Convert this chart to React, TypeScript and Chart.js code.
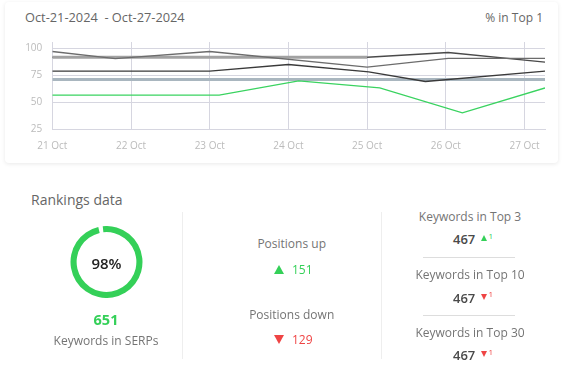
import React, { useEffect, useRef } from "react";
import { Chart, registerables } from "chart.js";

Chart.register(...registerables);

// ---- data ----
const dayLabels = ["21 Oct", "22 Oct", "23 Oct", "24 Oct", "25 Oct", "26 Oct", "27 Oct"];
const xMax = 6.26;
const yMin = 25;
const yMax = 106;

const greenX = [0, 2.12, 3.13, 4.16, 5.21, 6.26];
const greenY = [56.8, 56.8, 70.0, 63.5, 40.4, 63.5];

const darkX = [0, 2.0, 3.0, 4.02, 4.74, 6.26];
const darkY = [79, 79, 85.2, 78.3, 69.5, 79];

const grayX = [0, 0.8, 2.0, 4.0, 5.03, 6.26];
const grayY = [97.2, 90.7, 97.2, 82.7, 90.9, 90.9];

const thickX = [0, 4.0];
const thickY = [91.9, 91.9];

const topX = [0, 4.0, 5.03, 6.26];
const topY = [91.9, 91.9, 96.3, 87.3];

const blueX = [0, 6.26];
const blueY = [71.4, 71.4];

const keywordsPct = 98;
const keywordsInSerps = 651;
const positionsUp = 151;
const positionsDown = 129;
const topRows = [
  { label: "Keywords in Top 3", value: 467, delta: 1, up: true },
  { label: "Keywords in Top 10", value: 467, delta: 1, up: false },
  { label: "Keywords in Top 30", value: 467, delta: 1, up: false },
];

const FONT = "'Open Sans', 'Noto Sans', sans-serif";
const GREEN = "#34d058";
const RED = "#ef4444";
const LABEL = "#747474";

const pts = (xs: number[], ys: number[]) => xs.map((x, i) => ({ x, y: ys[i] }));

function LineChart() {
  const ref = useRef<HTMLCanvasElement>(null);
  useEffect(() => {
    if (!ref.current) return;
    const ds = (xs: number[], ys: number[], color: string, w: number) => ({
      data: pts(xs, ys),
      borderColor: color,
      backgroundColor: color,
      borderWidth: w,
      pointRadius: 0,
      tension: 0,
      fill: false,
    });
    const chart = new Chart(ref.current, {
      type: "line",
      data: {
        datasets: [
          ds(greenX, greenY, "#3ad360", 1.3),
          ds(darkX, darkY, "#3a3a3a", 1.3),
          ds(grayX, grayY, "#6c6c6c", 1.3),
          ds(thickX, thickY, "#a2a2a2", 3),
          ds(topX, topY, "#4a4a4a", 1.3),
          ds(blueX, blueY, "#a9b6bf", 3),
        ] as any,
      },
      options: {
        animation: false,
        responsive: true,
        maintainAspectRatio: false,
        layout: { padding: { top: 0, right: 10, left: 0, bottom: 0 } },
        plugins: { legend: { display: false }, tooltip: { enabled: false } },
        scales: {
          x: {
            type: "linear",
            min: 0,
            max: xMax,
            grid: { color: "#d6d6e0", drawTicks: false, lineWidth: 1 },
            border: { color: "#d6d6e0" },
            ticks: {
              stepSize: 1,
              includeBounds: false,
              padding: 11,
              color: "#bbbbbb",
              font: { family: FONT, size: 10 },
              maxRotation: 0,
              autoSkip: false,
              callback: (v: any) => dayLabels[Math.round(Number(v))] ?? "",
            },
            afterFit: (s: any) => {
              s.height = 30.7;
            },
          },
          y: {
            min: yMin,
            max: yMax,
            grid: { color: "#d6d6e0", drawTicks: false, lineWidth: 1 },
            border: { color: "#d6d6e0" },
            ticks: {
              stepSize: 25,
              includeBounds: false,
              padding: 10,
              color: "#bbbbbb",
              font: { family: FONT, size: 10 },
            },
            afterFit: (s: any) => {
              s.width = 42.3;
            },
          },
        },
      } as any,
    });
    return () => chart.destroy();
  }, []);
  return (
    <div style={{ position: "absolute", left: 10, top: 25.7, width: 545, height: 134.3 }}>
      <canvas ref={ref} />
    </div>
  );
}

function Donut() {
  const ref = useRef<HTMLCanvasElement>(null);
  useEffect(() => {
    if (!ref.current) return;
    const chart = new Chart(ref.current, {
      type: "doughnut",
      data: {
        datasets: [
          {
            data: [keywordsPct, 100 - keywordsPct],
            backgroundColor: [GREEN, "rgba(0,0,0,0)"],
            borderWidth: 0,
          },
        ],
      },
      options: {
        animation: false,
        responsive: true,
        maintainAspectRatio: false,
        rotation: -6,
        cutout: "83%",
        plugins: { legend: { display: false }, tooltip: { enabled: false } },
      } as any,
    });
    return () => chart.destroy();
  }, []);
  return (
    <div style={{ position: "absolute", left: 70, top: 226, width: 73, height: 72 }}>
      <canvas ref={ref} />
    </div>
  );
}

const Tri = ({ up, size, color, style }: { up: boolean; size: number; color: string; style: React.CSSProperties }) => (
  <div
    style={{
      position: "absolute",
      width: 0,
      height: 0,
      borderLeft: `${size / 2}px solid transparent`,
      borderRight: `${size / 2}px solid transparent`,
      ...(up
        ? { borderBottom: `${size * 0.9}px solid ${color}` }
        : { borderTop: `${size * 0.9}px solid ${color}` }),
      ...style,
    }}
  />
);

const centerText = (x: number, y: number, text: any, style: React.CSSProperties) => (
  <div
    style={{
      position: "absolute",
      left: x - 100,
      top: y,
      width: 200,
      textAlign: "center",
      transform: "translateY(-50%)",
      whiteSpace: "nowrap",
      lineHeight: 1,
      ...style,
    }}
  >
    {text}
  </div>
);

export default function App() {
  const rowYs = [216.7, 275, 332.7];
  return (
    <div
      style={{
        position: "absolute",
        left: 0,
        top: 0,
        width: 564,
        height: 378,
        background: "#fff",
        fontFamily: FONT,
        overflow: "hidden",
      }}
    >
      <div
        style={{
          position: "absolute",
          left: 5,
          top: 2,
          width: 553,
          height: 161,
          background: "#fff",
          borderRadius: 4,
          boxShadow: "0 1px 4px rgba(0,0,0,0.09)",
        }}
      />
      <div style={{ position: "absolute", left: 25, top: 10, fontSize: 12.8, color: "#666", whiteSpace: "pre", lineHeight: "15px" }}>
        {"Oct-21-2024  - Oct-27-2024"}
      </div>
      <div style={{ position: "absolute", right: 21, top: 10, fontSize: 12, color: "#666", lineHeight: "15px" }}>
        % in Top 1
      </div>
      <LineChart />

      <div style={{ position: "absolute", left: 31, top: 191, fontSize: 14, color: "#666", lineHeight: "18px" }}>
        Rankings data
      </div>
      <Donut />
      {centerText(106.5, 263, "98%", { fontSize: 15, fontWeight: 600, color: "#222" })}
      {centerText(106, 320, String(keywordsInSerps), { fontSize: 14.5, fontWeight: 700, color: GREEN })}
      {centerText(106, 341, "Keywords in SERPs", { fontSize: 12, color: LABEL })}

      <div style={{ position: "absolute", left: 182, top: 212, width: 1, height: 147, background: "#eee" }} />
      <div style={{ position: "absolute", left: 381, top: 212, width: 1, height: 147, background: "#eee" }} />

      {centerText(291.7, 244.3, "Positions up", { fontSize: 12, color: LABEL })}
      <Tri up={true} size={11} color={GREEN} style={{ left: 273.5, top: 265 }} />
      <div style={{ position: "absolute", left: 292, top: 263, fontSize: 12, color: GREEN, lineHeight: "14px" }}>
        {positionsUp}
      </div>
      {centerText(291.7, 315, "Positions down", { fontSize: 12, color: LABEL })}
      <Tri up={false} size={11} color={RED} style={{ left: 273.5, top: 335 }} />
      <div style={{ position: "absolute", left: 292, top: 333, fontSize: 12, color: RED, lineHeight: "14px" }}>
        {positionsDown}
      </div>

      {topRows.map((r, i) => (
        <React.Fragment key={r.label}>
          {centerText(470, rowYs[i], r.label, { fontSize: 12, color: LABEL })}
          <div
            style={{
              position: "absolute",
              left: 453,
              top: rowYs[i] + 22.6 - 8,
              fontSize: 13,
              fontWeight: 600,
              color: "#4a4a4a",
              lineHeight: "16px",
            }}
          >
            {r.value}
          </div>
          <Tri up={r.up} size={7} color={r.up ? GREEN : RED} style={{ left: 481, top: rowYs[i] + 18.5 }} />
          <div
            style={{
              position: "absolute",
              left: 488.5,
              top: rowYs[i] + 14,
              fontSize: 8,
              color: r.up ? GREEN : RED,
              lineHeight: "10px",
            }}
          >
            {r.delta}
          </div>
          {i < topRows.length - 1 && (
            <div style={{ position: "absolute", left: 423, top: rowYs[i] + 40, width: 92, height: 1, background: "#ddd" }} />
          )}
        </React.Fragment>
      ))}
    </div>
  );
}
